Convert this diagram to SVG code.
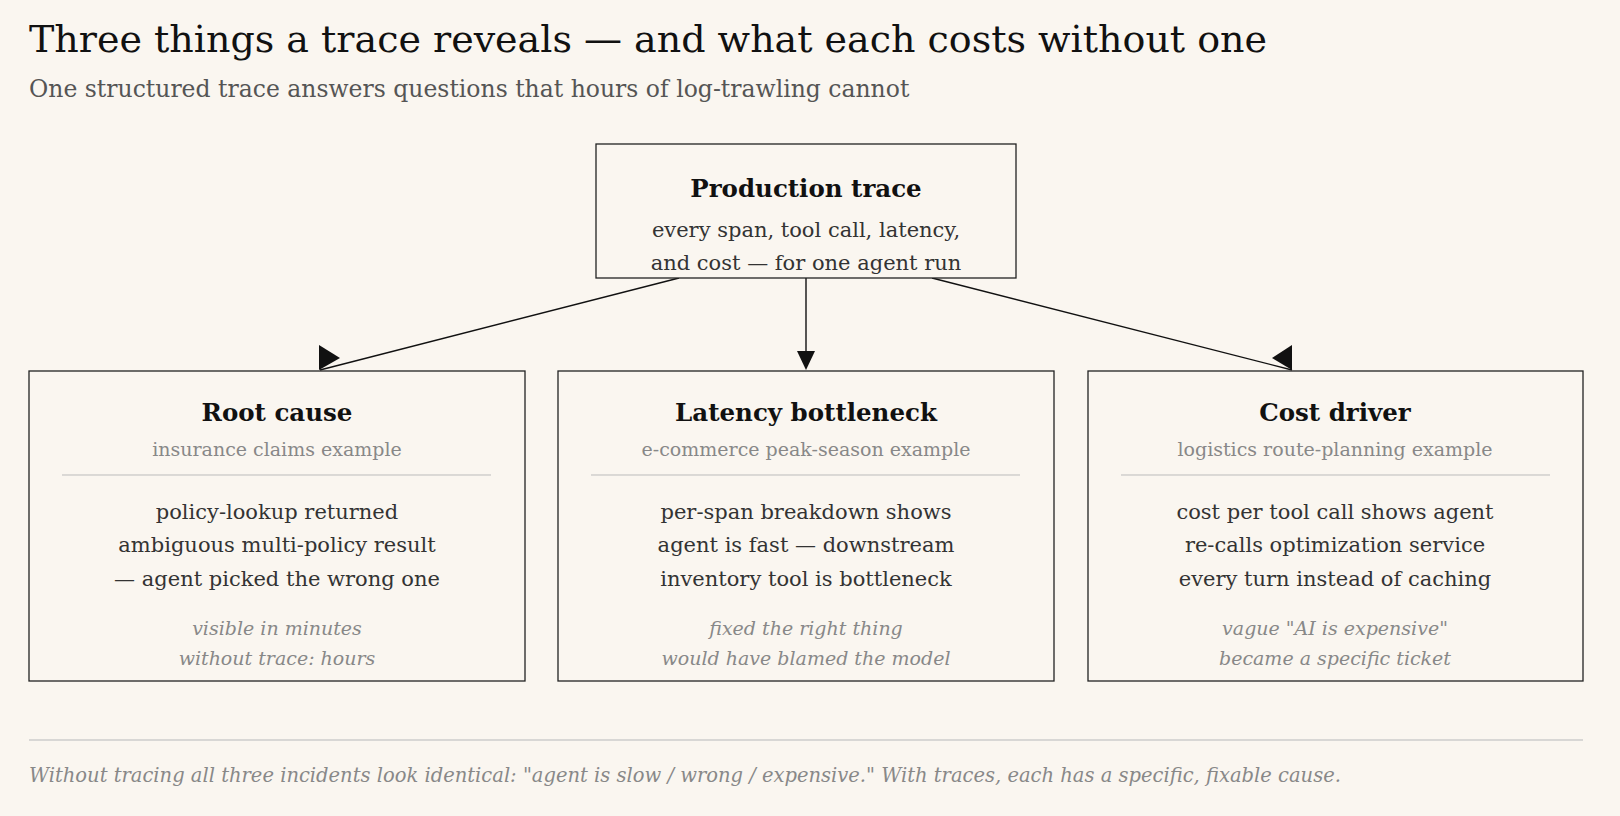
<svg xmlns="http://www.w3.org/2000/svg" width="1620" height="816" viewBox="0 0 1620 816">
<style>
text{font-family:"DejaVu Serif","Liberation Serif",serif;}
.box{fill:#faf6f0;stroke:#222;stroke-width:1.3}
.h{font-weight:bold;font-size:24.5px;fill:#111;text-anchor:middle}
.ex{font-size:19px;fill:#888;text-anchor:middle}
.b{font-size:21px;fill:#333;text-anchor:middle}
.it{font-size:19px;fill:#888;font-style:italic;text-anchor:middle}
.div{stroke:#bbb;stroke-width:1}
.con line{stroke:#111;stroke-width:1.4}
.con polygon{fill:#111}
</style>
<rect width="1620" height="816" fill="#faf6f0"/>
<text x="29" y="52" font-size="38" fill="#111">Three things a trace reveals — and what each costs without one</text>
<text x="29" y="97" font-size="23.5" fill="#555">One structured trace answers questions that hours of log-trawling cannot</text>
<g id="connectors" class="con">
<line x1="679" y1="278" x2="320" y2="370"/>
<polygon points="319,345 340,358 319,370"/>
<line x1="806" y1="278" x2="806" y2="355"/>
<polygon points="797,351 815,351 806,370"/>
<line x1="932" y1="278" x2="1292" y2="370"/>
<polygon points="1292,345 1272,358 1292,370"/>
</g>
<g id="top">
<rect class="box" x="596" y="144" width="420" height="134"/>
<text class="h" x="806" y="197">Production trace</text>
<text class="b" x="806" y="237">every span, tool call, latency,</text>
<text class="b" x="806" y="270">and cost — for one agent run</text>
</g>
<g id="root">
<rect class="box" x="29" y="371" width="496" height="310"/>
<text class="h" x="277" y="421">Root cause</text>
<text class="ex" x="277" y="456">insurance claims example</text>
<line class="div" x1="62" y1="475" x2="491" y2="475"/>
<text class="b" x="277" y="519">policy-lookup returned</text>
<text class="b" x="277" y="552">ambiguous multi-policy result</text>
<text class="b" x="277" y="586">— agent picked the wrong one</text>
<text class="it" x="277" y="635">visible in minutes</text>
<text class="it" x="277" y="665">without trace: hours</text>
</g>
<g id="latency">
<rect class="box" x="558" y="371" width="496" height="310"/>
<text class="h" x="806" y="421">Latency bottleneck</text>
<text class="ex" x="806" y="456">e-commerce peak-season example</text>
<line class="div" x1="591" y1="475" x2="1020" y2="475"/>
<text class="b" x="806" y="519">per-span breakdown shows</text>
<text class="b" x="806" y="552">agent is fast — downstream</text>
<text class="b" x="806" y="586">inventory tool is bottleneck</text>
<text class="it" x="806" y="635">fixed the right thing</text>
<text class="it" x="806" y="665">would have blamed the model</text>
</g>
<g id="cost">
<rect class="box" x="1088" y="371" width="495" height="310"/>
<text class="h" x="1335" y="421">Cost driver</text>
<text class="ex" x="1335" y="456">logistics route-planning example</text>
<line class="div" x1="1121" y1="475" x2="1550" y2="475"/>
<text class="b" x="1335" y="519">cost per tool call shows agent</text>
<text class="b" x="1335" y="552">re-calls optimization service</text>
<text class="b" x="1335" y="586">every turn instead of caching</text>
<text class="it" x="1335" y="635">vague "AI is expensive"</text>
<text class="it" x="1335" y="665">became a specific ticket</text>
</g>
<line x1="29" y1="740" x2="1583" y2="740" stroke="#ccc" stroke-width="1.3"/>
<text x="29" y="782" font-size="19.5" font-style="italic" fill="#888">Without tracing all three incidents look identical: "agent is slow / wrong / expensive." With traces, each has a specific, fixable cause.</text>
</svg>
